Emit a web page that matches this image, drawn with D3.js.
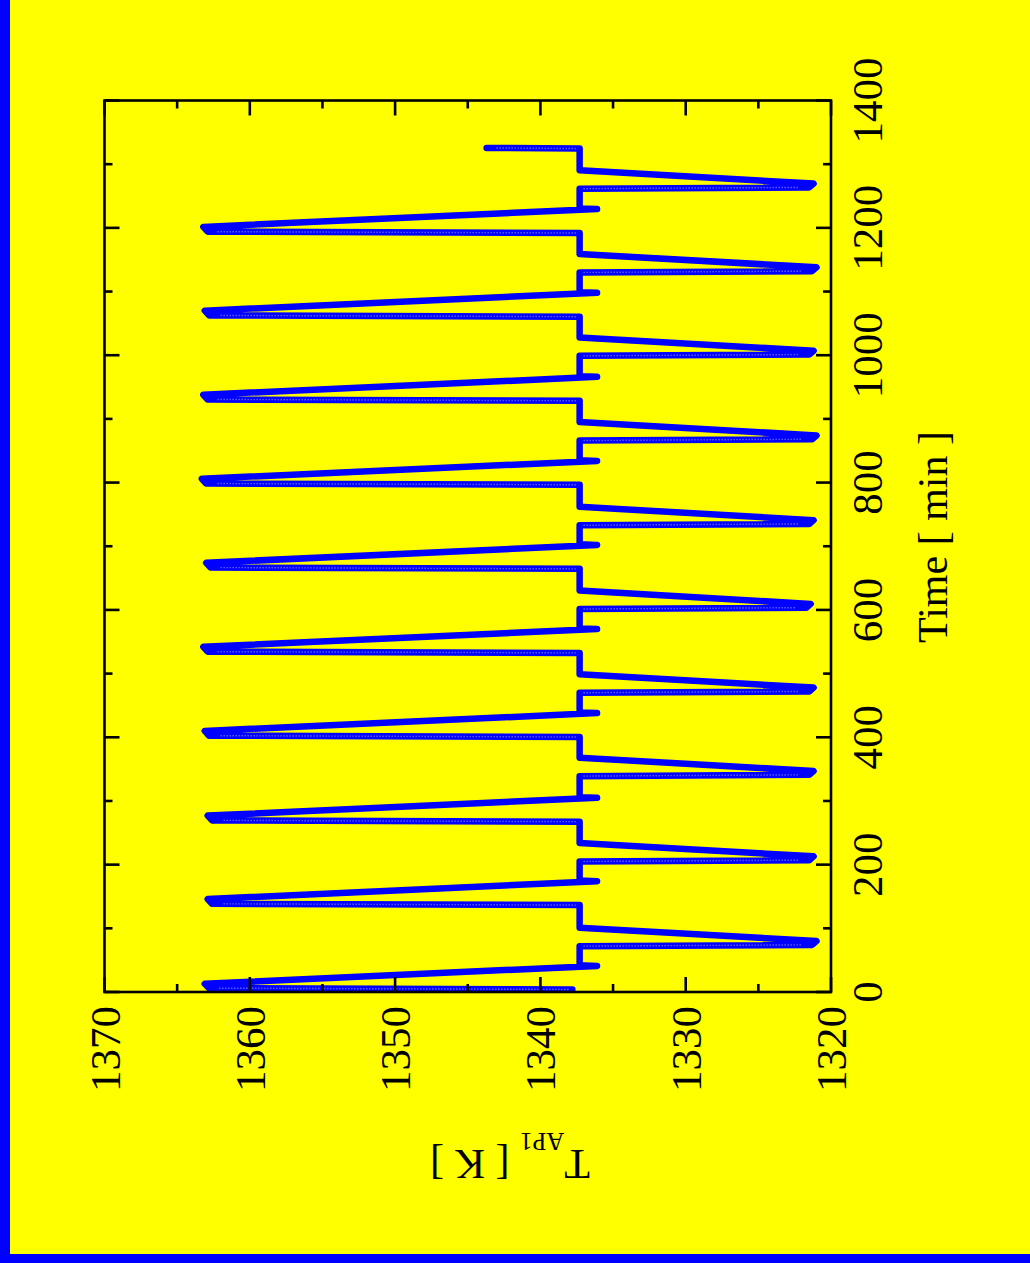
<!DOCTYPE html>
<html>
<head>
<meta charset="utf-8">
<script src="https://cdnjs.cloudflare.com/ajax/libs/d3/7.8.5/d3.min.js"></script>
<style>
  body { margin: 0; background: #ffff00; }
  svg { display: block; }
  text { font-family: "Liberation Serif", "DejaVu Serif", serif; fill: #000; white-space: pre; }
</style>
</head>
<body>
<script>
// time [min] of each vertex of the T_AP1 curve
var timeMin = [
  4, 6, 13, 41, 42, 72, 74, 80, 101,
  136.5, 138.5, 146, 174, 175, 205, 207, 213, 234,
  267.5, 269.5, 277, 305, 306, 339, 341, 347, 368,
  400.5, 402.5, 410, 438, 439, 470, 472, 478, 499,
  532.5, 534.5, 542, 570, 571, 601.5, 603.5, 609.5, 630.5,
  664.5, 666.5, 674, 702, 703, 733, 735, 741, 762,
  796.5, 798.5, 806, 834, 835, 866, 868, 874, 895,
  928.5, 930.5, 938, 966, 967, 999, 1001, 1007, 1028,
  1060.5, 1062.5, 1070, 1098, 1099, 1130, 1132, 1138, 1159,
  1192, 1194, 1201.5, 1229.5, 1230.5, 1261.5, 1263.5, 1269.5, 1290.5,
  1324.5, 1325.5
];

// temperature [K] at the same vertices
var tempK = [
  1337.8, 1362.8, 1363.1, 1336.1, 1337.3, 1337.3, 1321.3, 1321.0, 1337.3,
  1337.3, 1362.6, 1362.9, 1336.1, 1337.3, 1337.3, 1321.5, 1321.2, 1337.3,
  1337.3, 1362.6, 1362.9, 1336.1, 1337.3, 1337.3, 1321.5, 1321.2, 1337.3,
  1337.3, 1362.8, 1363.1, 1336.1, 1337.3, 1337.3, 1321.5, 1321.2, 1337.3,
  1337.3, 1362.9, 1363.2, 1336.1, 1337.3, 1337.3, 1321.7, 1321.4, 1337.3,
  1337.3, 1362.7, 1363.0, 1336.1, 1337.3, 1337.3, 1321.5, 1321.2, 1337.3,
  1337.3, 1363.0, 1363.3, 1336.1, 1337.3, 1337.3, 1321.3, 1321.0, 1337.3,
  1337.3, 1362.9, 1363.2, 1336.1, 1337.3, 1337.3, 1321.5, 1321.2, 1337.3,
  1337.3, 1362.8, 1363.1, 1336.1, 1337.3, 1337.3, 1321.3, 1321.0, 1337.3,
  1337.3, 1362.9, 1363.2, 1336.1, 1337.3, 1337.3, 1321.5, 1321.2, 1337.3,
  1337.3, 1343.7
];

var tempTicks = [1370, 1360, 1350, 1340, 1330, 1320];
var tempMinor = [1365, 1355, 1345, 1335, 1325];
var timeTicks = [0, 200, 400, 600, 800, 1000, 1200, 1400];
var timeMinor = [100, 300, 500, 700, 900, 1100, 1300];

var width = 1030;
var height = 1263;
var plot = {left: 104.5, right: 831, top: 100.5, bottom: 992};
var majorLen = 15, minorLen = 8;

var svg = d3.select("body")
  .append("svg")
  .attr("width", width)
  .attr("height", height);

svg.append("rect")
  .attr("width", width)
  .attr("height", height)
  .attr("fill", "#ffff00");

// blue page edges
svg.append("rect").attr("x", 0).attr("y", 0).attr("width", 10).attr("height", height).attr("fill", "#0000ff");
svg.append("rect").attr("x", 0).attr("y", 1254).attr("width", width).attr("height", height - 1254).attr("fill", "#0000ff");

// plot is turned a quarter: temperature runs across, time runs up
var x = d3.scaleLinear().domain([1370, 1320]).range([plot.left, plot.right]);
var y = d3.scaleLinear().domain([0, 1400]).range([plot.bottom, plot.top]);

var pts = timeMin.map(function(t, i) { return {t: t, T: tempK[i]}; });

var line = d3.line()
  .x(function(d) { return x(d.T); })
  .y(function(d) { return y(d.t); });

svg.append("path")
  .datum(pts)
  .attr("d", line)
  .attr("fill", "none")
  .attr("stroke", "#0000ff")
  .attr("stroke-width", 6.5)
  .attr("stroke-linejoin", "round")
  .attr("stroke-linecap", "round");

// fast jumps show the open point markers, fake it with a light dashed core
var fast = [];
for (var i = 0; i < pts.length - 1; i++) {
  var rate = Math.abs(pts[i + 1].T - pts[i].T) / (pts[i + 1].t - pts[i].t);
  if (rate > 4) fast.push([pts[i], pts[i + 1]]);
}
svg.append("g")
  .selectAll("line")
  .data(fast)
  .enter()
  .append("line")
  .attr("x1", function(d) { return x(d[0].T) + (d[1].T > d[0].T ? -4 : 4); })
  .attr("y1", function(d) { return y(d[0].t); })
  .attr("x2", function(d) { return x(d[1].T) + (d[1].T > d[0].T ? 10 : -10); })
  .attr("y2", function(d) { return y(d[1].t); })
  .attr("stroke", "#ffffff")
  .attr("stroke-opacity", 0.55)
  .attr("stroke-width", 1.4)
  .attr("stroke-dasharray", "1 2");

// frame and ticks (mirrored on all four sides)
var axes = svg.append("g").attr("stroke", "#000").attr("stroke-width", 2.6);

tempTicks.map(function(v) { return [v, majorLen]; })
  .concat(tempMinor.map(function(v) { return [v, minorLen]; }))
  .forEach(function(d) {
    axes.append("line").attr("x1", x(d[0])).attr("x2", x(d[0])).attr("y1", plot.bottom).attr("y2", plot.bottom - d[1]);
    axes.append("line").attr("x1", x(d[0])).attr("x2", x(d[0])).attr("y1", plot.top).attr("y2", plot.top + d[1]);
  });

timeTicks.map(function(v) { return [v, majorLen]; })
  .concat(timeMinor.map(function(v) { return [v, minorLen]; }))
  .forEach(function(d) {
    axes.append("line").attr("y1", y(d[0])).attr("y2", y(d[0])).attr("x1", plot.left).attr("x2", plot.left + d[1]);
    axes.append("line").attr("y1", y(d[0])).attr("y2", y(d[0])).attr("x1", plot.right).attr("x2", plot.right - d[1]);
  });

axes.append("rect")
  .attr("x", plot.left)
  .attr("y", plot.top)
  .attr("width", plot.right - plot.left)
  .attr("height", plot.bottom - plot.top)
  .attr("fill", "none");

// tick labels, turned like the rest of the page
svg.append("g")
  .selectAll("text")
  .data(tempTicks)
  .enter()
  .append("text")
  .attr("transform", function(d) { return "translate(" + (x(d) + 15) + "," + 1006 + ")rotate(-90)"; })
  .attr("text-anchor", "end")
  .attr("font-size", 43)
  .text(function(d) { return d; });

svg.append("g")
  .selectAll("text")
  .data(timeTicks)
  .enter()
  .append("text")
  .attr("transform", function(d) { return "translate(" + 882 + "," + y(d) + ")rotate(-90)"; })
  .attr("text-anchor", "middle")
  .attr("font-size", 43)
  .text(function(d) { return d; });

// axis titles
svg.append("text")
  .attr("transform", "translate(947,537)rotate(-90)")
  .attr("text-anchor", "middle")
  .attr("font-size", 42)
  .text("Time [ min ]");

var ylab = svg.append("text")
  .attr("transform", "translate(590,1150)rotate(180)")
  .attr("text-anchor", "start")
  .attr("font-size", 42);
ylab.append("tspan").text("T");
ylab.append("tspan").attr("font-size", 25).attr("dy", 17).text("AP1");
ylab.append("tspan").attr("dy", -17).text(" [ K ]");
</script>
</body>
</html>
